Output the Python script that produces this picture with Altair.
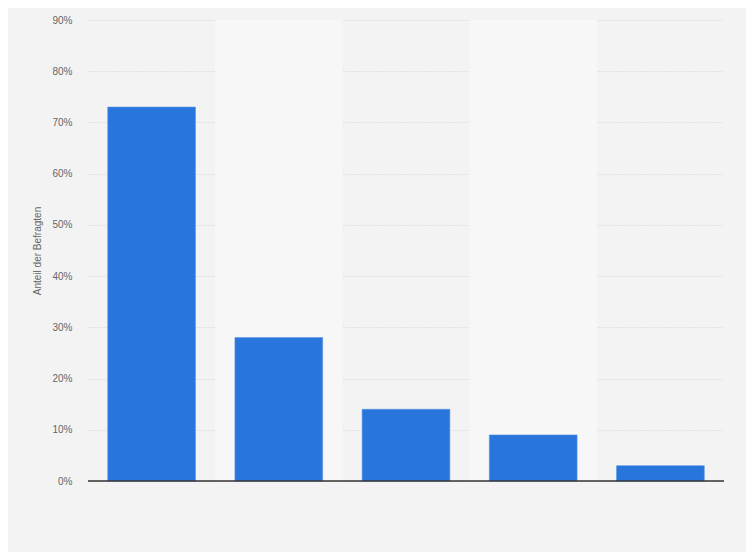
import altair as alt
import pandas as pd

categories = ["Kategorie 1", "Kategorie 2", "Kategorie 3", "Kategorie 4", "Kategorie 5"]
values = [73, 28, 14, 9, 3]
y_ticks = [0, 10, 20, 30, 40, 50, 60, 70, 80, 90]
band_categories = ["Kategorie 2", "Kategorie 4"]

df = pd.DataFrame({"cat": categories, "val": values})
bands = pd.DataFrame({"cat": band_categories})

W, H = 636, 461

xscale = alt.Scale(domain=categories, paddingInner=0, paddingOuter=0)
yscale = alt.Scale(domain=[0, 90], nice=False)

band_layer = alt.Chart(bands).mark_rect(color="#f7f7f7").encode(
    x=alt.X("cat:N", scale=xscale, axis=None),
    y=alt.value(0),
    y2=alt.value(H),
)

bars = alt.Chart(df).mark_bar(
    color="#2876dc", stroke="#5a97e4", strokeWidth=0.6,
    width=alt.RelativeBandSize(0.69),
).encode(
    x=alt.X("cat:N", scale=xscale, axis=None, sort=categories),
    y=alt.Y(
        "val:Q",
        scale=yscale,
        axis=alt.Axis(
            values=y_ticks,
            labelExpr="datum.value + '%'",
            title="Anteil der Befragten",
            titleFontSize=10,
            titleFontWeight="normal",
            titleColor="#666666",
            titleFont="Liberation Sans",
            titlePadding=9,
            labelFontSize=10,
            labelColor="#666666",
            labelFont="Liberation Sans",
            labelPadding=16,
            ticks=False,
            domain=False,
            grid=True,
            gridColor="#d0d0d0",
            gridDash=[1, 2],
            gridWidth=1,
        ),
    ),
)

baseline = alt.Chart(pd.DataFrame({"v": [0]})).mark_rule(color="#333333", strokeWidth=1.4).encode(
    y=alt.Y("v:Q", scale=yscale),
    x=alt.value(0),
    x2=alt.value(W),
)

chart = alt.layer(band_layer, bars, baseline).properties(
    width=W,
    height=H,
    autosize=alt.AutoSizeParams(type="none"),
    padding={"left": 80, "top": 12, "right": 22, "bottom": 71},
    background="#f3f3f3",
).configure_view(stroke=None, fill="#f3f3f3")

chart.save("out.html", embed_options={"renderer": "svg", "actions": False})
